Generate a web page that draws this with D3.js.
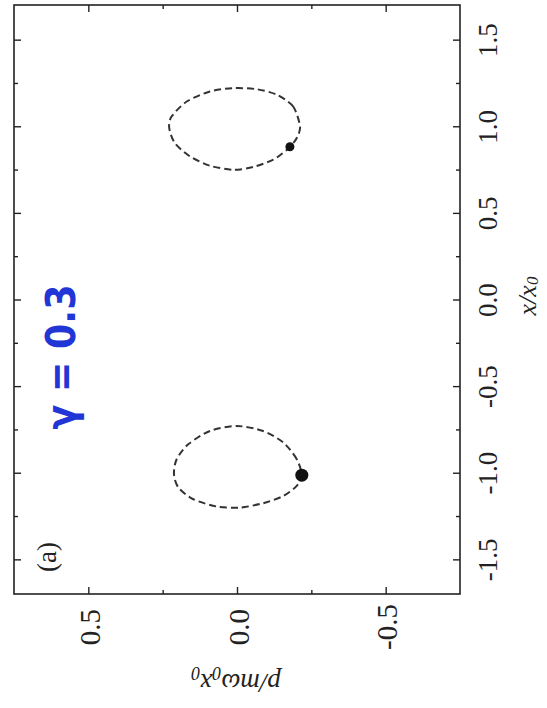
<!DOCTYPE html>
<html>
<head>
<meta charset="utf-8">
<script src="https://cdn.jsdelivr.net/npm/d3@7"></script>
<style>
  html, body { margin: 0; padding: 0; background: #ffffff; }
  svg { display: block; }
</style>
</head>
<body>
<svg id="chart" width="547" height="708"></svg>
<script>
// ---------------- data ----------------
// momentum axis (horizontal on the page, reversed) p/(m w0 x0)
const pMajorTicks = [0.5, 0.0, -0.5];
const pMajorLabels = ["0.5", "0.0", "-0.5"];
const pMinorTicks = [0.25, -0.25];
// position axis (vertical on the page) x/x0
const xMajorTicks = [-1.5, -1.0, -0.5, 0.0, 0.5, 1.0, 1.5];
const xMajorLabels = ["-1.5", "-1.0", "-0.5", "0.0", "0.5", "1.0", "1.5"];
const xMinorTicks = [-1.25, -0.75, -0.25, 0.25, 0.75, 1.25];

// orbit around the right well (x/x0 ~ +1)
const orbitUpperX = [0.999, 1.114, 1.182, 1.214, 1.220, 1.201, 1.143, 1.056, 0.990, 0.903, 0.826, 0.772, 0.749, 0.765, 0.807, 0.855, 0.880, 0.932];
const orbitUpperP = [-0.212, -0.189, -0.134, -0.066, 0.012, 0.091, 0.169, 0.220, 0.228, 0.209, 0.158, 0.091, 0.012, -0.055, -0.122, -0.161, -0.178, -0.201];
// orbit around the left well (x/x0 ~ -1)
const orbitLowerX = [-1.014, -0.922, -0.826, -0.759, -0.730, -0.759, -0.836, -0.922, -1.009, -1.086, -1.153, -1.195, -1.201, -1.176, -1.134, -1.076];
const orbitLowerP = [-0.218, -0.201, -0.156, -0.088, 0.001, 0.091, 0.164, 0.203, 0.212, 0.197, 0.147, 0.068, -0.010, -0.088, -0.156, -0.201];
// end points (dots)
const dotX = [0.882, -1.014];
const dotP = [-0.178, -0.218];
const dotR = [4.5, 6.5];

const panelLabel = "(a)";
const gammaLabel = "\u03B3 = 0.3";

// ---------------- layout ----------------
const svg = d3.select("#chart");
const mLeft = 14, mRight = 460, mTop = 5, mBottom = 594;
const serif = "'Liberation Serif', 'Times New Roman', 'DejaVu Serif', serif";

const pScale = d3.scaleLinear().domain([0.75, -0.75]).range([mLeft, mRight]);
const xScale = d3.scaleLinear().domain([-1.7, 1.7]).range([mBottom, mTop]);

const ink = "#222222";

// frame
svg.append("rect")
  .attr("x", mLeft).attr("y", mTop)
  .attr("width", mRight - mLeft).attr("height", mBottom - mTop)
  .attr("fill", "none").attr("stroke", ink).attr("stroke-width", 1.6);

function styleAxis(g) {
  g.select(".domain").remove();
  g.selectAll(".tick line").attr("stroke", ink).attr("stroke-width", 1.4);
}

// right axis (x/x0) with inward ticks
const gRight = svg.append("g").attr("transform", `translate(${mRight},0)`)
  .call(d3.axisRight(xScale).tickValues(xMajorTicks).tickSizeInner(-7).tickSizeOuter(0)
    .tickFormat((d, i) => xMajorLabels[i]));
styleAxis(gRight);
gRight.selectAll(".tick text")
  .attr("x", null).attr("dy", null)
  .attr("transform", "translate(28,0) rotate(-90)")
  .attr("text-anchor", "middle")
  .attr("dominant-baseline", "central")
  .attr("font-family", serif).attr("font-size", 27).attr("fill", ink);
svg.append("g").attr("transform", `translate(${mRight},0)`)
  .call(d3.axisRight(xScale).tickValues(xMinorTicks).tickSizeInner(-4).tickSizeOuter(0).tickFormat(""))
  .call(styleAxis);

// left axis ticks (inward)
svg.append("g").attr("transform", `translate(${mLeft},0)`)
  .call(d3.axisLeft(xScale).tickValues(xMajorTicks).tickSizeInner(-7).tickSizeOuter(0).tickFormat(""))
  .call(styleAxis);
svg.append("g").attr("transform", `translate(${mLeft},0)`)
  .call(d3.axisLeft(xScale).tickValues(xMinorTicks).tickSizeInner(-4).tickSizeOuter(0).tickFormat(""))
  .call(styleAxis);

// bottom axis (p) with inward ticks and rotated labels
const gBottom = svg.append("g").attr("transform", `translate(0,${mBottom})`)
  .call(d3.axisBottom(pScale).tickValues(pMajorTicks).tickSizeInner(-7).tickSizeOuter(0)
    .tickFormat((d, i) => pMajorLabels[i]));
styleAxis(gBottom);
gBottom.selectAll(".tick text")
  .attr("y", null).attr("dy", null)
  .attr("transform", "translate(1,33) rotate(-90)")
  .attr("text-anchor", "middle")
  .attr("dominant-baseline", "central")
  .attr("font-family", serif).attr("font-size", 29).attr("fill", ink);
svg.append("g").attr("transform", `translate(0,${mBottom})`)
  .call(d3.axisBottom(pScale).tickValues(pMinorTicks).tickSizeInner(-4).tickSizeOuter(0).tickFormat(""))
  .call(styleAxis);

// top axis ticks (inward)
svg.append("g").attr("transform", `translate(0,${mTop})`)
  .call(d3.axisTop(pScale).tickValues(pMajorTicks).tickSizeInner(-7).tickSizeOuter(0).tickFormat(""))
  .call(styleAxis);
svg.append("g").attr("transform", `translate(0,${mTop})`)
  .call(d3.axisTop(pScale).tickValues(pMinorTicks).tickSizeInner(-4).tickSizeOuter(0).tickFormat(""))
  .call(styleAxis);

// axis titles
const xt = svg.append("text")
  .attr("transform", "translate(527,296) rotate(-90)")
  .attr("text-anchor", "middle").attr("dominant-baseline", "central")
  .attr("font-family", serif).attr("font-style", "italic").attr("font-size", 26).attr("fill", ink);
xt.append("tspan").text("x/x");
xt.append("tspan").attr("font-size", 17).attr("dy", 5).text("0");

const pt = svg.append("text")
  .attr("transform", "translate(236,683) rotate(180)")
  .attr("text-anchor", "middle").attr("dominant-baseline", "central")
  .attr("font-family", serif).attr("font-style", "italic").attr("font-size", 27).attr("fill", ink);
pt.append("tspan").text("p/m\u03C9");
pt.append("tspan").attr("font-size", 18).attr("baseline-shift", "sub").text("0");
pt.append("tspan").text("x");
pt.append("tspan").attr("font-size", 18).attr("baseline-shift", "sub").text("0");

// panel label
svg.append("text")
  .attr("transform", "translate(47,557) rotate(-90)")
  .attr("text-anchor", "middle").attr("dominant-baseline", "central")
  .attr("font-family", serif).attr("font-size", 27).attr("fill", ink)
  .text(panelLabel);

// handwritten gamma annotation
svg.append("text")
  .attr("transform", "translate(61,357) rotate(-90)")
  .attr("text-anchor", "middle").attr("dominant-baseline", "central")
  .attr("font-family", "'DejaVu Sans', sans-serif").attr("font-weight", "bold")
  .attr("font-size", 40).attr("fill", "#2236d6")
  .attr("textLength", 145).attr("lengthAdjust", "spacingAndGlyphs")
  .text(gammaLabel);

// orbits
const line = d3.line()
  .x(d => pScale(d[1]))
  .y(d => xScale(d[0]))
  .curve(d3.curveCardinalClosed.tension(0.2));

const orbits = [
  d3.zip(orbitUpperX, orbitUpperP),
  d3.zip(orbitLowerX, orbitLowerP)
];
svg.selectAll("path.orbit").data(orbits).join("path")
  .attr("class", "orbit")
  .attr("d", line)
  .attr("fill", "none")
  .attr("stroke", "#333333")
  .attr("stroke-width", 2)
  .attr("stroke-dasharray", "7,4");

svg.selectAll("circle.dot").data(d3.range(dotX.length)).join("circle")
  .attr("class", "dot")
  .attr("cx", i => pScale(dotP[i]))
  .attr("cy", i => xScale(dotX[i]))
  .attr("r", i => dotR[i])
  .attr("fill", "#111");
</script>
</body>
</html>
